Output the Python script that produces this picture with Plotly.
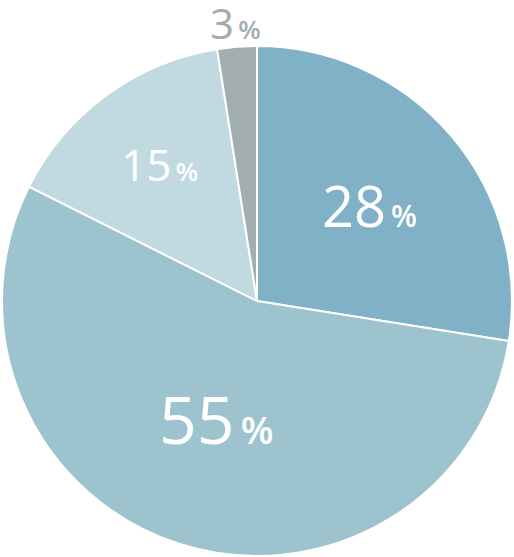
import math
import plotly.graph_objects as go

categories = ["A", "B", "C", "D"]
shares = [27.5, 54.9, 15.1, 2.5]
label_numbers = ["28", "55", "15", "3"]

colors = ["#81B1C7", "#9DC3CE", "#C1D9E0", "#A2AEB0"]
num_sizes = [56, 66, 44, 42]
pct_sizes = [30, 38, 26, 26]
text_colors = ["white", "white", "white", "#A2ADB0"]
radial = [0.58, 0.485, 0.66, 1.095]
ang_shift = [0.0, 0.02, 0.01, 0.0]

W, H = 514, 557
cx, cy, R = 257, 301, 255

fig = go.Figure(go.Pie(
    labels=categories, values=shares, sort=False, direction="clockwise",
    rotation=0, marker=dict(colors=colors, line=dict(color="white", width=2)),
    textinfo="none", hoverinfo="skip", showlegend=False,
    domain=dict(x=[(cx - R) / W, (cx + R) / W], y=[(H - cy - R) / H, (H - cy + R) / H]),
))

total = sum(shares)
cum = 0
for i, v in enumerate(shares):
    mid = (cum + v / 2) / total * 2 * math.pi + ang_shift[i]
    cum += v
    px = cx + radial[i] * R * math.sin(mid)
    py = cy - radial[i] * R * math.cos(mid)
    txt = (f"{label_numbers[i]}<span style='font-size:{pct_sizes[i]}px;font-weight:600'>"
           f"\u2009%</span>")
    fig.add_annotation(x=px / W, y=1 - py / H, xref="paper", yref="paper",
                       text=txt, showarrow=False, xanchor="center", yanchor="middle",
                       font=dict(family="Open Sans", size=num_sizes[i], color=text_colors[i]))

fig.update_layout(width=W, height=H, margin=dict(l=0, r=0, t=0, b=0),
                  paper_bgcolor="white", plot_bgcolor="white")
fig.write_html("out.html", config={"displayModeBar": False},
               post_script="document.body.style.margin='0';document.body.style.overflow='hidden';")
